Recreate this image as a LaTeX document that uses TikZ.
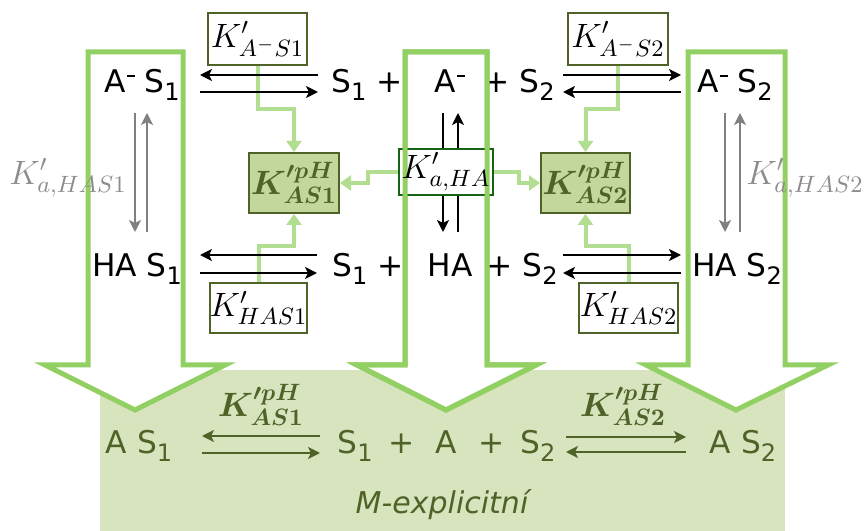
\RequirePackage{fix-cm}
\documentclass[tikz,border=0pt]{standalone}
\usepackage[no-math]{fontspec}
\setmainfont{DejaVu Sans}
\usepackage{bm}
\usetikzlibrary{arrows.meta,calc}
\definecolor{arrgreen}{RGB}{146,208,100}
\definecolor{conngreen}{RGB}{178,222,146}
\definecolor{dkolive}{RGB}{79,98,40}
\definecolor{kphfill}{RGB}{195,214,155}
\definecolor{bgfill}{RGB}{215,228,189}
\definecolor{kahaborder}{RGB}{20,100,20}
\definecolor{grayarr}{RGB}{128,128,128}
\definecolor{graylbl}{RGB}{140,140,140}
\newcommand{\lo}[1]{\raisebox{-3.2pt}{\fontsize{9.6}{10}\selectfont #1}}
\newcommand{\mi}{\kern0.3pt\rule[6.2pt]{3.2pt}{0.9pt}}
\begin{document}
\begin{tikzpicture}[x=0.4pt,y=-0.4pt,
  txt/.style={font=\fontsize{12.5}{15}\selectfont, inner sep=0pt, anchor=base},
  mathlbl/.style={font=\fontsize{13.5}{16}\selectfont, inner sep=0pt},
  kbox/.style={draw=dkolive, line width=0.8pt, fill=white, inner sep=0pt, font=\fontsize{13.5}{16}\selectfont},
  kphbox/.style={draw=dkolive, line width=0.8pt, fill=kphfill, text=dkolive, inner sep=0pt, font=\fontsize{13.5}{16}\selectfont},
  kahabox/.style={draw=kahaborder, line width=0.8pt, fill=white, inner sep=0pt},
  rarr/.style={line width=0.8pt, -{Stealth[length=4.8pt,width=4.8pt,inset=1.2pt]}},
  conn/.style={draw=conngreen, line width=1.6pt, -{Triangle[length=4.4pt,width=6pt]}},
  bigarrow/.style={draw=arrgreen, line width=2pt, fill=white, line join=miter}]
\useasboundingbox (0,0) rectangle (866,531);
\fill[bgfill] (100,370) rectangle (785,531);
% big block arrows
\draw[bigarrow] (88,52) -- (183,52) -- (183,365) -- (225,365) -- (135,410) -- (45,365) -- (88,365) -- cycle;
\draw[bigarrow] (688,52) -- (785,52) -- (785,365) -- (828,365) -- (736,410) -- (646,365) -- (688,365) -- cycle;
\draw[bigarrow] (405,52) -- (487,52) -- (487,365) -- (536,365) -- (446,410) -- (357,365) -- (405,365) -- cycle;
% species, top row
\node[txt] (a1) at (142,93) {A\mi\ S\lo{1}};
\node[txt] (s1p) at (367,93) {S\lo{1} +};
\node[txt] (am) at (450,93) {A\mi};
\node[txt] (sps2) at (519,93) {+ S\lo{2}};
\node[txt] (a2) at (735,93) {A\mi\ S\lo{2}};
% species, second row
\node[txt] (h1) at (137,277) {HA S\lo{1}};
\node[txt] (s1q) at (368,277) {S\lo{1} +};
\node[txt] (ha) at (450,277) {HA};
\node[txt] (sq2) at (522,277) {+ S\lo{2}};
\node[txt] (h2) at (737,277) {HA S\lo{2}};
% bottom row
\node[txt,text=dkolive] (b1) at (139,453) {A S\lo{1}};
\node[txt,text=dkolive] (bs1) at (376,453) {S\lo{1}\enspace+};
\node[txt,text=dkolive] (bA) at (446,453) {A};
\node[txt,text=dkolive] (bs2) at (517,453) {+\enspace S\lo{2}};
\node[txt,text=dkolive] (b2) at (743,453) {A S\lo{2}};
\node[txt,text=dkolive,font=\fontsize{12}{14}\selectfont\itshape] (mex) at (442,513) {M-explicitní};
% gray labels
\node[mathlbl,text=graylbl] (kah1) at (68,178) {$K'_{a,HAS1}$};
\node[mathlbl,text=graylbl] (kah2) at (805,178) {$K'_{a,HAS2}$};
% bottom labels
\node[mathlbl,text=dkolive] (kpb1) at (261,405) {$\bm{K'^{pH}_{AS1}}$};
\node[mathlbl,text=dkolive] (kpb2) at (623,405) {$\bm{K'^{pH}_{AS2}}$};
% middle vertical arrows
\draw[rarr] ($(am.base)+(-7,20)$) -- ($(ha.base)+(-7,-45)$);
\draw[rarr] ($(ha.base)+(8,-45)$) -- ($(am.base)+(8,20)$);
% boxes
\node[kbox,minimum width=39.6pt,minimum height=20.8pt] (kas1) at (257.5,39) {$K'_{A^-S1}$};
\node[kbox,minimum width=40pt,minimum height=20.8pt] (kas2) at (618,39) {$K'_{A^-S2}$};
\node[kbox,minimum width=38.8pt,minimum height=20pt] (khas1) at (258.5,308) {$K'_{HAS1}$};
\node[kbox,minimum width=39.6pt,minimum height=20pt] (khas2) at (628.5,308) {$K'_{HAS2}$};
\node[kphbox,minimum width=36pt,minimum height=24pt] (kph1) at (294,183) {$\bm{K'^{pH}_{AS1}}$};
\node[kphbox,minimum width=35.6pt,minimum height=24pt] (kph2) at (585.5,183) {$\bm{K'^{pH}_{AS2}}$};
\node[kahabox,minimum width=37.6pt,minimum height=18.4pt] (kaha) at (446,172) {};
\draw[draw=arrgreen, line width=2pt, line join=miter] (405,52) -- (487,52) -- (487,365) -- (536,365) -- (446,410) -- (357,365) -- (405,365) -- cycle;
\node[mathlbl] (kahat) at (kaha.center) {$K'_{a,HA}$};
% connectors
\draw[conn] (kas1.south) -- ++(0,43) -| (kph1.north);
\draw[conn] (khas1.north) -- ++(0,-36) -| (kph1.south);
\draw[conn] (kaha.west) -- ++(-30,0) |- (kph1.east);
\draw[conn] (kaha.east) -- ++(25,0) |- (kph2.west);
\draw[conn] (kas2.south) -- ++(0,43) -| (kph2.north);
\draw[conn] (khas2.north) -- ++(0,-36) -| (kph2.south);
% reaction arrows top
\draw[rarr] ($(s1p.base)+(-49,-18)$) -- ($(a1.base)+(58,-18)$);
\draw[rarr] ($(a1.base)+(58,-1)$) -- ($(s1p.base)+(-49,-1)$);
\draw[rarr] ($(sps2.base)+(44,-18)$) -- ($(a2.base)+(-54,-18)$);
\draw[rarr] ($(a2.base)+(-54,-1)$) -- ($(sps2.base)+(44,-1)$);
% reaction arrows second row
\draw[rarr] ($(s1q.base)+(-51,-22)$) -- ($(h1.base)+(63,-22)$);
\draw[rarr] ($(h1.base)+(63,-4)$) -- ($(s1q.base)+(-51,-4)$);
\draw[rarr] ($(sq2.base)+(41,-22)$) -- ($(h2.base)+(-56,-22)$);
\draw[rarr] ($(h2.base)+(-56,-4)$) -- ($(sq2.base)+(41,-4)$);
% gray vertical
\draw[rarr,grayarr] ($(a1.base)+(-7,20)$) -- ($(h1.base)+(-2,-45)$);
\draw[rarr,grayarr] ($(h1.base)+(10,-45)$) -- ($(a1.base)+(5,20)$);
\draw[rarr,grayarr] ($(a2.base)+(-10,20)$) -- ($(h2.base)+(-12,-45)$);
\draw[rarr,grayarr] ($(h2.base)+(3,-45)$) -- ($(a2.base)+(5,20)$);
% bottom row arrows
\draw[rarr,dkolive] ($(bs1.base)+(-56,-17)$) -- ($(b1.base)+(63,-17)$);
\draw[rarr,dkolive] ($(b1.base)+(63,0)$) -- ($(bs1.base)+(-56,0)$);
\draw[rarr,dkolive] ($(bs2.base)+(49,-16)$) -- ($(b2.base)+(-57,-16)$);
\draw[rarr,dkolive] ($(b2.base)+(-57,-1)$) -- ($(bs2.base)+(49,-1)$);
\end{tikzpicture}
\end{document}
